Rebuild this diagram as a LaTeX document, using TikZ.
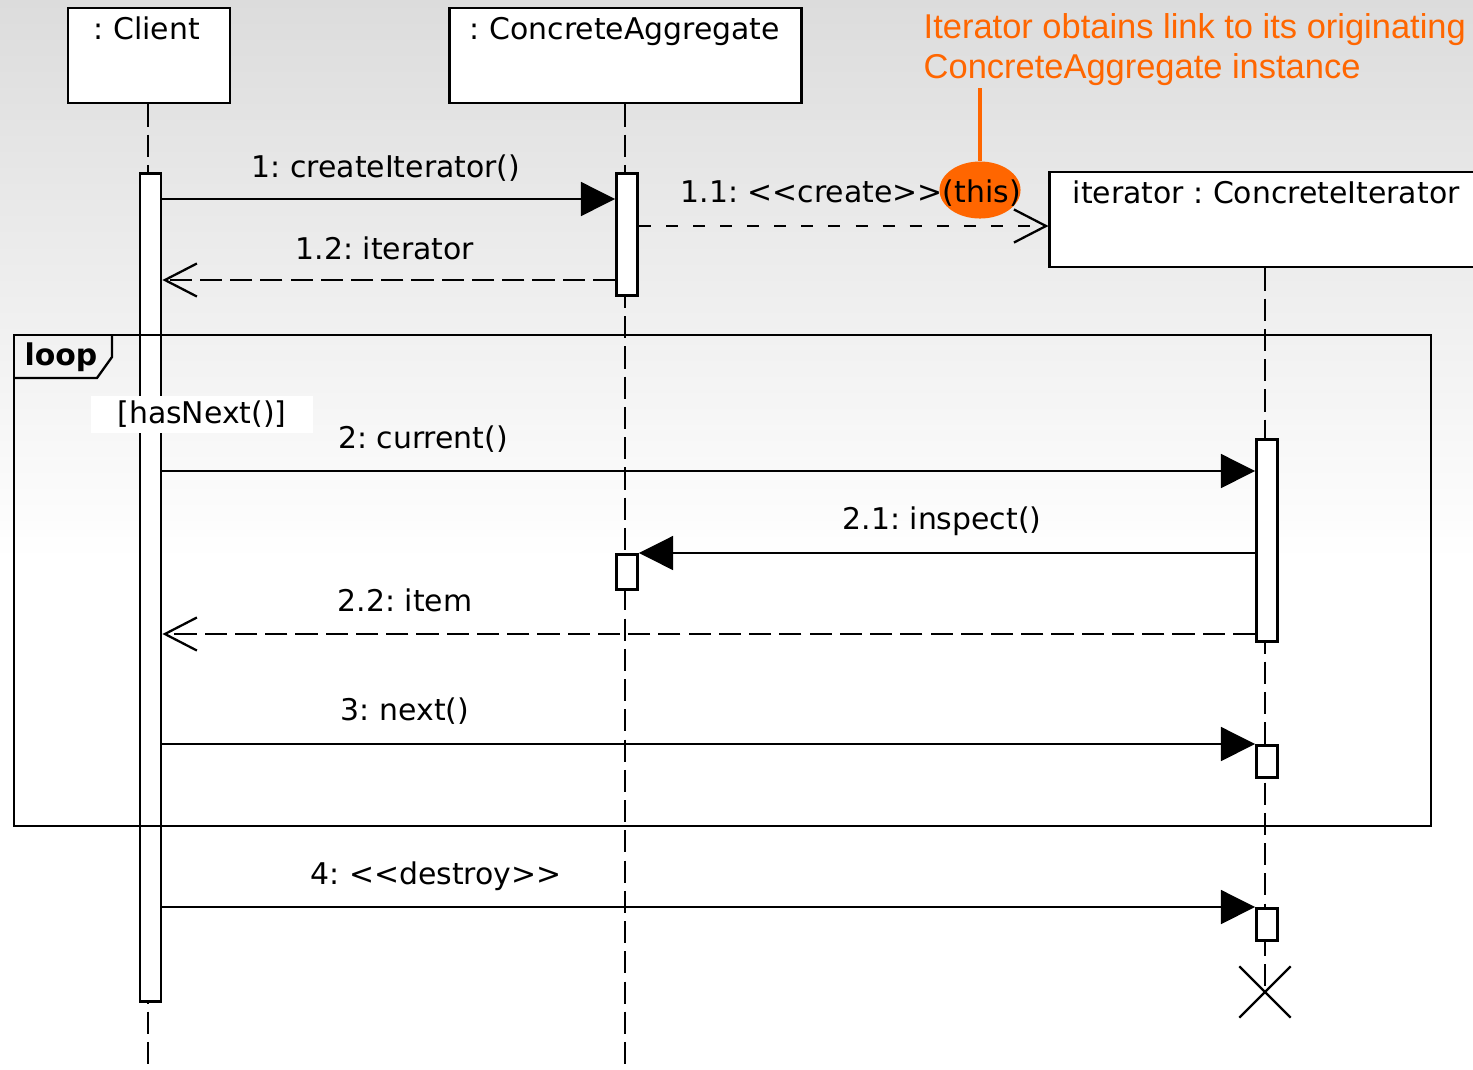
\documentclass[tikz,border=0pt]{standalone}
\usepackage{fontspec}
\setmainfont{DejaVu Sans}[Ligatures=TeXOff]
\newfontfamily\noteFont{Liberation Sans}
\usetikzlibrary{arrows.meta,shapes.geometric,shapes.misc}
\frenchspacing
\definecolor{noteColor}{RGB}{255,102,0}
\definecolor{bgTop}{RGB}{220,220,220}
\tikzstyle{diagram} = [x = 0.01cm, y = -0.01cm, font=\fontsize{8.5}{10}\selectfont]
\tikzstyle{headBox} = [draw, fill=white, line width=0.8pt, inner sep=0pt]
\tikzstyle{actBox} = [draw, fill=white, line width=0.8pt, inner sep=0pt, minimum width=0.21cm]
\tikzstyle{nameText} = [inner sep=0pt, text height=0.75em, text depth=0.2em]
\tikzstyle{msgText} = [inner sep=0pt, text height=0.75em, text depth=0.2em]
\tikzstyle{lifeLine} = [line width=0.65pt, dash pattern=on 6.3pt off 2.3pt]
\tikzstyle{frameLine} = [line width=0.65pt]
\tikzstyle{syncMsg} = [line width=0.65pt, -{Triangle[length=9.7pt, width=9.6pt]}]
\tikzstyle{replyMsg} = [line width=0.65pt, dash pattern=on 6.3pt off 2.3pt, -{Straight Barb[length=9.1pt, width=9.4pt, line width=0.65pt]}]
\tikzstyle{createMsg} = [replyMsg, dash pattern=on 3.4pt off 4.3pt]
\tikzstyle{guardBox} = [fill=white, inner sep=0pt, minimum width=2.21cm, minimum height=0.37cm]
\tikzstyle{noteMark} = [ellipse, fill=noteColor, inner sep=0pt, minimum width=0.81cm, minimum height=0.57cm]
\tikzstyle{noteText} = [color=noteColor, inner sep=0pt, align=left, font=\noteFont\fontsize{9.8}{11.4}\selectfont]
\tikzstyle{endMark} = [draw, cross out, line width=0.65pt, inner sep=0pt, minimum size=0.49cm]
\newcommand{\activation}[4]{\node [actBox, anchor=north, minimum height={(#4-#3)*0.01cm}] (#1) at (#2, #3) {};}
\newcommand{\syncCall}[3]{\draw [syncMsg] (#1 |- 0,#3) -- (#2 |- 0,#3);}
\newcommand{\replyCall}[3]{\draw [replyMsg] (#1 |- 0,#3) -- (#2 |- 0,#3);}
\newcommand{\callLabel}[4]{\node [msgText] (#1) at (#2, #3) {#4};}

\begin{document}
\begin{tikzpicture}[diagram]
  \useasboundingbox (0,0) rectangle (1473,1069);
  \shade [top color=bgTop, bottom color=white] (0,0) rectangle (1473,560);
  \fill [white] (0,560) rectangle (1473,1069);

  \node [headBox, minimum width=1.62cm, minimum height=0.95cm] (client) at (149,55.5) {};
  \node [headBox, minimum width=3.51cm, minimum height=0.95cm] (aggregate) at (625.5,55.5) {};
  \node [headBox, minimum width=4.6cm, minimum height=0.95cm] (iterator) at (1280,219.5) {};
  \node [nameText] (clientName) at (147,30) {: Client};
  \node [nameText] (aggregateName) at (625,30) {: ConcreteAggregate};
  \node [nameText, anchor=west] (iteratorName) at (1072,194) {iterator : ConcreteIterator};

  \coordinate (clientEnd) at (148,1069);
  \coordinate (aggregateEnd) at (625,1069);
  \node [endMark] (iteratorEnd) at (1265,992) {};
  \draw [lifeLine] (client.south -| clientEnd) -- (clientEnd);
  \draw [lifeLine] (aggregate.south -| aggregateEnd) -- (aggregateEnd);
  \draw [lifeLine] (iterator.south -| iteratorEnd) -- (iteratorEnd.center);

  \activation{clientAct}{150.5}{172}{1000}
  \activation{aggregateAct}{627}{172}{294}
  \activation{aggregateInspect}{627}{553}{588}
  \activation{iteratorAct}{1267}{438}{640}
  \activation{iteratorNext}{1267}{744}{776}
  \activation{iteratorDestroy}{1267}{907}{939}

  \draw [frameLine] (14,335) rectangle (1431,826);
  \draw [frameLine] (14,378) -- (97,378) -- (112,357) -- (112,335);
  \node [inner sep=0pt, font=\fontsize{8.5}{10}\selectfont\bfseries] (loopName) at (61,357) {loop};

  \syncCall{clientAct.east}{aggregateAct.west}{199}
  \draw [createMsg] (aggregateAct.east |- 0,226) -- (iterator.west |- 0,226);
  \replyCall{aggregateAct.west}{clientAct.east}{280}
  \syncCall{clientAct.east}{iteratorAct.west}{471}
  \syncCall{iteratorAct.west}{aggregateInspect.east}{553}
  \replyCall{iteratorAct.west}{clientAct.east}{634}
  \syncCall{clientAct.east}{iteratorNext.west}{744}
  \syncCall{clientAct.east}{iteratorDestroy.west}{907}

  \node [noteMark] (thisMark) at (980,190) {};
  \node [noteText, anchor=north west] (note) at (923,13) {Iterator obtains link to its originating\\ConcreteAggregate instance};
  \draw [noteColor, line width=0.9pt] (thisMark.north) -- (thisMark.north |- 0,88);

  \callLabel{createLabel}{386}{168}{1: createIterator()}
  \node [msgText, anchor=west] (newLabel) at (680,193) {1.1: <<create>>(this)};
  \callLabel{returnLabel}{385}{250}{1.2: iterator}
  \callLabel{currentLabel}{423}{439}{2: current()}
  \callLabel{inspectLabel}{942}{520}{2.1: inspect()}
  \callLabel{itemLabel}{405}{602}{2.2: item}
  \callLabel{nextLabel}{405}{711}{3: next()}
  \callLabel{destroyLabel}{436}{875}{4: <<destroy>>}

  \node [guardBox] (guard) at (202,414.5) {[hasNext()]};
\end{tikzpicture}
\end{document}
